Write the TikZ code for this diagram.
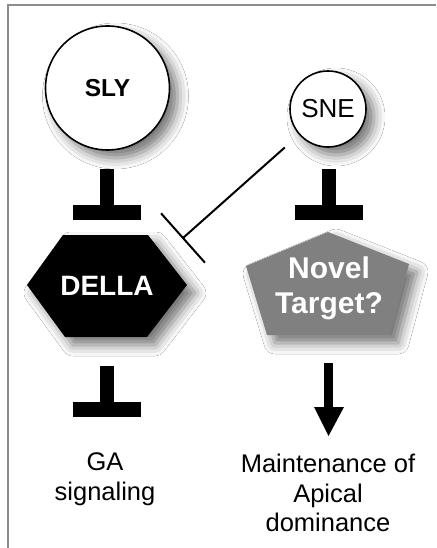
\documentclass[tikz,border=0pt]{standalone}
\usepackage{fontspec}
\setmainfont{Liberation Sans}
\usetikzlibrary{shadows.blur,calc}
\tikzset{
  shad/.style={blur shadow={shadow xshift=8pt,shadow yshift=-8pt,shadow blur radius=11pt,shadow opacity=55}},
  circ/.style={circle,draw,line width=1.6pt,fill=white,inner sep=0pt,shad},
  lbl/.style={font=\fontsize{25.5}{29.5}\selectfont,align=center,inner sep=0pt},
  wlbl/.style={text=white,align=center,inner sep=0pt},
  tbar/.pic={\fill (-7,0) rectangle (7,37); \fill (-34,36) rectangle (34,51);},
  inhib/.style={line width=2pt},
}
\begin{document}
\begin{tikzpicture}[x=1pt,y=-1pt]
\useasboundingbox (0,0) rectangle (436,548);
\fill[white] (0,0) rectangle (436,548);
\draw[black!45,line width=1.4pt] (8,548) -- (8,5) -- (436,5);

\node[circ,minimum size=124pt] (sly) at (107.5,88) {\fontsize{24.5}{24.5}\selectfont\bfseries SLY};
\node[circ,minimum size=76pt] (sne) at (328,109) {\fontsize{26}{26}\selectfont SNE};

% DELLA hexagon
\fill[black,shad] (63,235) -- (148,235) -- (187,285) -- (147,337) -- (65,337) -- (27,285) -- cycle;
\node[wlbl,font=\fontsize{28}{28}\selectfont\bfseries] (della) at (107,286) {DELLA};

% Novel target pentagon
\fill[black!50,shad] (328,232) -- (409,264) -- (390,335) -- (267,335) -- (246,266) -- cycle;
\node[wlbl,font=\fontsize{30}{35}\selectfont\bfseries] (novel) at (329,288) {Novel\\Target?};

% T-bars
\pic at (107,169) {tbar};
\pic at (329,169) {tbar};
\pic at (107,366) {tbar};

% SNE -| DELLA inhibition
\coordinate (ie) at (183,238);
\draw[inhib,shorten <=19pt] (sne) -- (ie);
\draw[inhib] ($(ie)!33pt!90:(sne)$) -- ($(ie)!33pt!-90:(sne)$);

% arrow
\fill (323.5,363) rectangle (333,408);
\fill (314,407) -- (344,407) -- (328.5,436) -- cycle;

% labels
\node[lbl] (ga) at (105,479) {GA\\signaling};
\node[lbl] (apical) at (328,493) {Maintenance of\\Apical\\dominance};
\end{tikzpicture}
\end{document}
